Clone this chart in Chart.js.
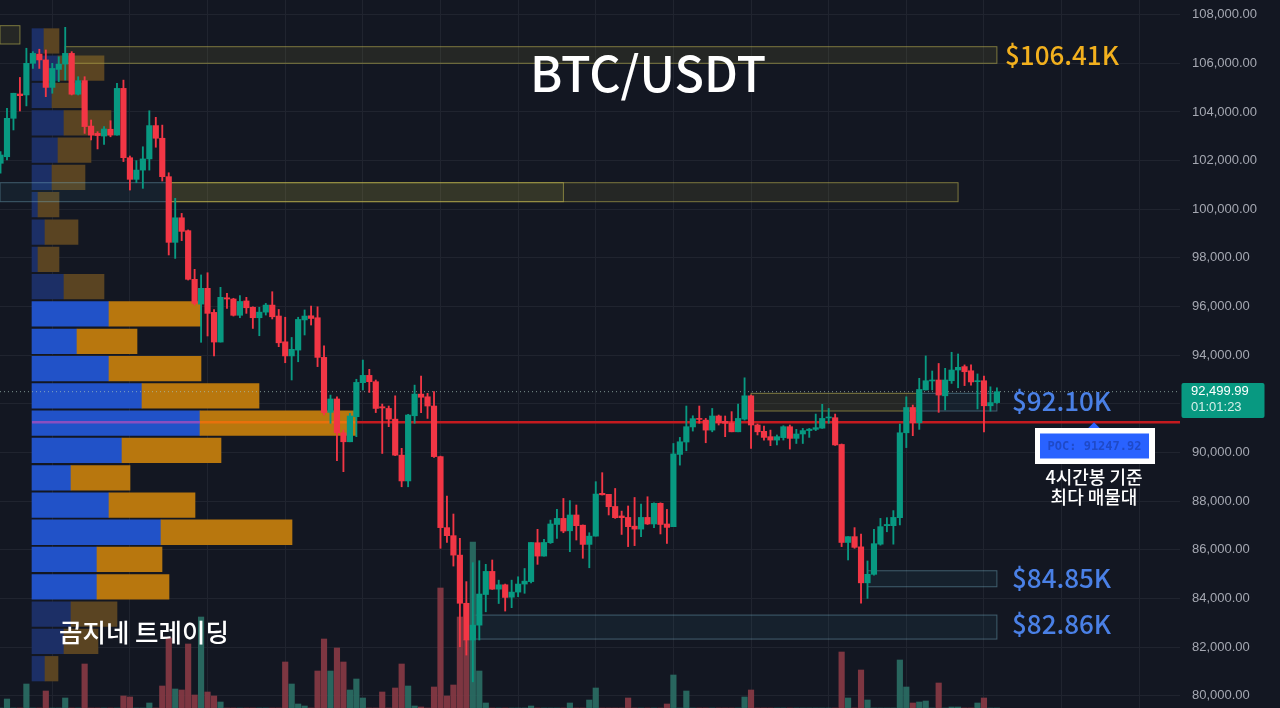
<!DOCTYPE html>
<html>
<head>
<meta charset="utf-8">
<title>BTC/USDT</title>
<script src="https://cdn.jsdelivr.net/npm/chart.js@4"></script>
<style>
  html, body { margin: 0; padding: 0; background: #131722; overflow: hidden; }
  canvas { display: block; }
</style>
</head>
<body>
<canvas id="chart" width="1280" height="708"></canvas>
<script>
// candles, 4h bars, oldest first
const opens = [
  101890,102160,103740,104740,104700,106000,106380,106140,105010,105750,
  105970,106410,104730,105290,103420,103120,103010,103290,103050,104970,
  102120,101230,101610,102070,103440,102920,101340,98640,99650,99120,
  97120,96100,96750,95760,94540,96360,96310,95640,96230,95970,
  95540,95770,96060,95610,94550,93970,94210,95450,95620,95540,
  93910,91650,92200,90810,90440,91470,92870,93170,92910,91880,
  91810,91370,89890,88830,91510,92400,92290,91910,89830,86910,
  86580,85780,83800,82290,82900,84160,85110,84380,84560,84050,
  84260,84590,84690,86290,85740,86290,87040,87290,86780,87430,
  87010,86220,86560,88320,88280,87780,87390,87330,86970,86850,
  87330,87060,87910,87060,86950,89920,90430,91050,91400,91330,
  90920,91500,91280,91220,90850,91370,92330,91130,90870,90650,
  90510,90610,91060,90580,90760,90900,90950,91000,91420,91430,
  90330,86300,86540,86120,84640,84990,86230,86990,86990,87320,
  90810,91850,91220,92570,92940,92980,92330,92950,93390,93530,
  93360,92910,92950,91920,92050
];
const closes = [
  102230,103740,104770,104670,106000,106410,106140,105010,105790,105970,
  106410,104730,105290,103400,103050,103030,103300,103050,104970,102120,
  101230,101610,102070,103440,102920,101340,98640,99650,99090,97120,
  96130,96750,95720,94540,96380,96310,95640,96210,95950,95540,
  95770,96060,95580,94510,93970,94240,95470,95610,95510,93910,
  91640,92200,90810,90440,91500,92880,93170,92910,91810,91830,
  91370,89890,88830,91540,92400,92270,91910,89830,86910,86580,
  85780,83800,82290,82900,84180,85110,84380,84560,84040,84260,
  84590,84710,86300,85740,86300,87060,87290,86770,87430,86990,
  86220,86560,88290,88260,87770,87320,87320,86950,86850,87330,
  87060,87910,87040,86920,89940,90440,91060,91390,91360,90920,
  91500,91220,91200,90850,91400,92330,91130,90850,90620,90510,
  90650,91060,90580,90760,90900,90960,91020,91400,91440,90310,
  86300,86540,86100,84640,84990,86250,86950,87040,87330,90810,
  91850,91220,92590,92950,92980,92360,92980,93390,93500,93320,
  92900,92950,91920,92050,92500
];
const highs = [
  102370,104150,104770,105420,106620,106480,106580,106550,106000,106270,
  107480,106480,105450,105450,103670,103190,103400,103640,105180,105310,
  102190,102000,102570,104050,103780,103460,101500,100450,99830,99150,
  97530,97300,97390,95880,96790,96540,96340,96450,96380,95990,
  95970,96130,96610,95880,95560,94730,95560,95860,96020,95990,
  94380,92360,92290,90920,91610,93010,93800,93420,92980,91990,
  91910,92330,90170,91570,92770,93140,92430,92500,89850,88210,
  87470,86470,84690,85470,85550,85400,85580,84750,84590,84750,
  84890,85230,86300,86840,86430,87220,87660,88110,88020,87840,
  87020,86700,88800,89170,88280,88520,87590,87800,88150,87880,
  88180,87930,87930,87660,90370,90620,91910,91510,91910,91400,
  91810,91540,91500,91680,91990,93070,92360,91170,91090,90920,
  90720,91100,91130,90950,90990,90990,91580,91980,91810,91580,
  90350,86540,86910,86650,85540,86840,87290,87320,87610,91170,
  92290,91950,93050,93970,93350,93660,93460,94120,94050,93600,
  93600,93230,93140,92700,92660
];
const lows = [
  101480,102030,103260,104040,104250,105790,105790,104630,104770,105250,
  105310,104700,104700,103120,102850,102480,102670,102980,103050,101960,
  100790,101090,100860,101610,102550,101160,98120,97980,98710,97090,
  96060,94530,94790,93970,94540,95920,95610,95540,95720,95100,
  94800,95650,95490,94350,93690,92980,93730,94830,95240,93530,
  91540,91200,89660,89210,90440,90650,92570,92470,91640,89960,
  91060,89870,88590,88590,91200,91640,91400,89800,86060,86300,
  85330,82010,81670,80570,82290,83450,84370,83790,83480,83620,
  84070,84210,84640,85400,85740,86260,86470,86700,85920,86400,
  85650,85260,86560,88250,87430,87290,86630,86130,86170,86540,
  87040,86910,86650,86260,86950,89480,90070,90880,91200,90400,
  90850,91130,90650,90850,90850,91330,90170,90720,90510,90280,
  90310,90510,90140,90370,90370,90620,90900,90990,91200,90290,
  86130,85580,86060,83800,84000,84960,86190,86740,86230,87020,
  90200,90690,90950,92570,92570,91650,91750,92840,92660,92750,
  92770,91790,90850,91700,92020
];
const volumes = [
  0,90,0,0,240,0,0,170,0,0,
  100,0,0,440,0,0,0,0,0,120,
  110,0,0,50,0,220,700,190,180,640,
  130,910,160,120,60,0,0,0,0,0,
  0,0,0,0,460,240,40,20,0,370,
  690,370,600,460,180,290,100,0,0,160,
  0,200,440,220,20,10,0,210,1200,120,
  230,910,680,1660,370,50,0,0,0,0,
  0,0,20,0,0,0,0,0,50,0,
  0,80,200,0,0,0,0,100,0,0,
  0,0,0,40,330,0,170,0,0,0,
  0,0,0,0,0,110,180,0,0,0,
  0,0,0,0,0,0,0,0,0,0,
  560,100,0,380,80,0,0,0,0,480,
  210,50,60,70,0,250,0,10,10,0,
  0,50,100,0,0
];

// volume profile rows
const profilePrices = [
  106920,105800,104680,103550,102430,101310,100190,99060,97940,96820,95700,94570,
  93450,92330,91210,90090,88960,87840,86720,85600,84470,83350,82230,81110
];
const profileBuy = [12,26,20,32,26,20,6,13,6,32,77,45,77,110,168,90,39,77,129,65,65,39,32,13];
const profileSell = [15,46,30,47,33,33,21,33,21,40,92,60,92,117,156,99,59,86,131,65,72,46,34,13];
const profileActive = [0,0,0,0,0,0,0,0,0,0,1,1,1,1,1,1,1,1,1,1,1,0,0,0];

// axis
const priceTicks = [80000,82000,84000,86000,88000,90000,92000,94000,96000,98000,100000,102000,104000,106000,108000];
const timeGrid = [8,20,32,44,56,68,80,92,104,116,128,140,152,164,176];

// levels: from bar, to bar, top price, bottom price, kind
const zoneFrom = [-0.08,10,-0.08,26,26,116,142,134,73];
const zoneTo = [3,154,26,148,87,142,154,154,154];
const zoneTop = [107548,106684,101092,101092,101092,92432,92432,85137,83315];
const zoneBottom = [106795,106002,100311,100311,100311,91705,91705,84479,82328];
const zoneKind = ['y','y','b','y','y','y','b','b','b'];

const lastPrice = 92499.99;
const pocPrice = 91247.92;

const UP = '#089981', DOWN = '#f23645';
const isUp = opens.map((o, i) => closes[i] >= o);
const candleColors = isUp.map(u => u ? UP : DOWN);
const volColors = isUp.map(u => u ? 'rgba(42,110,100,0.92)' : 'rgba(135,58,68,0.92)');
const bars = opens.map((o, i) => i);

const KR = '"Noto Sans CJK KR", "Noto Sans", sans-serif';

// zones + level lines sit between the profile and the candles
const levels = {
  id: 'levels',
  afterDatasetDraw(chart, args) {
    if (chart.data.datasets[args.index].label !== 'sell') return;
    const { ctx, chartArea, scales: { x, y } } = chart;
    ctx.save();
    zoneFrom.forEach((f, i) => {
      const left = x.getPixelForValue(f), right = x.getPixelForValue(zoneTo[i]);
      const top = y.getPixelForValue(zoneTop[i]), bottom = y.getPixelForValue(zoneBottom[i]);
      const yellow = zoneKind[i] === 'y';
      ctx.fillStyle = yellow ? 'rgba(200,190,70,0.1)' : 'rgba(60,140,170,0.09)';
      ctx.strokeStyle = yellow ? 'rgba(190,180,80,0.6)' : 'rgba(120,175,195,0.45)';
      ctx.lineWidth = 1;
      ctx.fillRect(left, top, right - left, bottom - top);
      ctx.strokeRect(left, top, right - left, bottom - top);
    });
    // last price dotted line
    const ly = y.getPixelForValue(lastPrice);
    ctx.setLineDash([1, 3]);
    ctx.strokeStyle = 'rgba(170,200,190,0.7)';
    ctx.beginPath(); ctx.moveTo(0, ly); ctx.lineTo(chartArea.right, ly); ctx.stroke();
    ctx.setLineDash([]);
    // POC line, tinted while it crosses the profile row
    const py = y.getPixelForValue(pocPrice);
    ctx.lineWidth = 2.5;
    ctx.strokeStyle = '#c41a1f';
    ctx.beginPath(); ctx.moveTo(356, py); ctx.lineTo(chartArea.right, py); ctx.stroke();
    ctx.strokeStyle = '#e8710c';
    ctx.beginPath(); ctx.moveTo(200, py); ctx.lineTo(356, py); ctx.stroke();
    ctx.strokeStyle = '#8a4fc0';
    ctx.beginPath(); ctx.moveTo(32, py); ctx.lineTo(200, py); ctx.stroke();
    ctx.restore();
  }
};

// text and the boxes that belong to it
const labels = {
  id: 'labels',
  afterDraw(chart) {
    const { ctx, scales: { y } } = chart;
    const text = (s, px, py, font, color, align) => {
      ctx.font = font;
      ctx.fillStyle = color;
      ctx.textAlign = align || 'left';
      ctx.textBaseline = 'middle';
      ctx.fillText(s, px, py);
    };
    ctx.save();
    text('BTC/USDT', 648, 74, '500 48.5px ' + KR, '#ffffff', 'center');
    text('$106.41K', 1005, 55, '500 26px ' + KR, '#f2b01e');
    text('$92.10K', 1012, 401, '500 26px ' + KR, '#4a80e6');
    text('$84.85K', 1012, 578, '500 26px ' + KR, '#4a80e6');
    text('$82.86K', 1012, 624, '500 26px ' + KR, '#4a80e6');
    text('곰지네 트레이딩', 59, 632, '500 25.5px ' + KR, '#ffffff');
    text('4시간봉 기준', 1094, 477, '500 18px ' + KR, '#ffffff', 'center');
    text('최다 매물대', 1094, 497, '500 18px ' + KR, '#ffffff', 'center');

    // POC tag
    const py = y.getPixelForValue(pocPrice);
    ctx.fillStyle = '#2962ff';
    ctx.beginPath(); ctx.moveTo(1094, py); ctx.lineTo(1100, py + 6); ctx.lineTo(1088, py + 6); ctx.closePath(); ctx.fill();
    ctx.fillStyle = '#ffffff';
    ctx.fillRect(1035, 428, 120, 36);
    ctx.fillStyle = '#2962ff';
    ctx.fillRect(1040, 433.5, 109, 25);
    text('POC: ' + pocPrice, 1094.5, 446.5, 'bold 12px "DejaVu Sans Mono", monospace', '#1f4ac8', 'center');

    // last price badge
    ctx.fillStyle = '#089981';
    ctx.beginPath(); ctx.roundRect(1181.5, 383, 83, 35, 2); ctx.fill();
    text('92,499.99', 1191, 391.5, '13px "Liberation Sans"', '#ffffff');
    text('01:01:23', 1191, 407.5, '13px "Liberation Sans"', '#d5efe9');
    ctx.restore();
  }
};

// the price area runs edge to edge, so axes must not reserve room for label overhang
const noPadding = axis => {
  axis.paddingTop = axis.paddingBottom = axis.paddingLeft = axis.paddingRight = 0;
};

new Chart(document.getElementById('chart'), {
  type: 'bar',
  data: {
    datasets: [
      {
        label: 'wick',
        data: bars.map(i => ({ x: i, y: [lows[i], highs[i]] })),
        backgroundColor: candleColors,
        barThickness: 1.2,
        grouped: false,
        order: 2
      },
      {
        label: 'body',
        data: bars.map(i => ({ x: i, y: [opens[i], closes[i]] })),
        backgroundColor: candleColors,
        barThickness: 5.5,
        minBarLength: 1,
        grouped: false,
        order: 1
      },
      {
        label: 'volume',
        data: bars.map(i => ({ x: i, y: volumes[i] })),
        backgroundColor: volColors,
        yAxisID: 'yv',
        barThickness: 5.5,
        grouped: false,
        order: 3
      },
      {
        label: 'sell',
        indexAxis: 'y',
        data: profilePrices.map((p, r) => ({ y: p, x: [profileBuy[r], profileBuy[r] + profileSell[r]] })),
        backgroundColor: profileActive.map(a => a ? '#b8770e' : '#5a4422'),
        xAxisID: 'xp',
        barThickness: 24.6,
        grouped: false,
        order: 4
      },
      {
        label: 'buy',
        indexAxis: 'y',
        data: profilePrices.map((p, r) => ({ y: p, x: [0, profileBuy[r]] })),
        backgroundColor: profileActive.map(a => a ? '#2152c8' : '#1c2f66'),
        xAxisID: 'xp',
        barThickness: 24.6,
        grouped: false,
        order: 5
      }
    ]
  },
  options: {
    responsive: false,
    animation: false,
    layout: { padding: 0 },
    plugins: { legend: { display: false }, tooltip: { enabled: false } },
    scales: {
      x: {
        type: 'linear',
        offset: false,
        min: -0.08,
        max: 182.3,
        grid: { offset: false, color: '#20242f', drawTicks: false },
        border: { display: false },
        ticks: { display: false },
        afterBuildTicks: axis => { axis.ticks = timeGrid.map(v => ({ value: v })); },
        afterFit: axis => { axis.height = 0; noPadding(axis); }
      },
      xp: { type: 'linear', offset: false, display: false, min: -32, max: 1148, grid: { offset: false } },
      y: {
        type: 'linear',
        position: 'right',
        offset: false,
        beginAtZero: false,
        min: 79494,
        max: 108604,
        grid: { offset: false, color: '#20242f', drawTicks: false },
        border: { display: false },
        afterBuildTicks: axis => { axis.ticks = priceTicks.map(v => ({ value: v })); },
        afterFit: axis => { axis.width = 100; noPadding(axis); },
        ticks: {
          autoSkip: false,
          padding: 12,
          color: '#a5a8b2',
          font: { family: '"Liberation Sans"', size: 13 },
          callback: v => v.toLocaleString('en-US', { minimumFractionDigits: 2 })
        }
      },
      yv: { type: 'linear', offset: false, display: false, min: 0, max: 7080, grid: { offset: false } }
    }
  },
  plugins: [levels, labels]
});
</script>
</body>
</html>
